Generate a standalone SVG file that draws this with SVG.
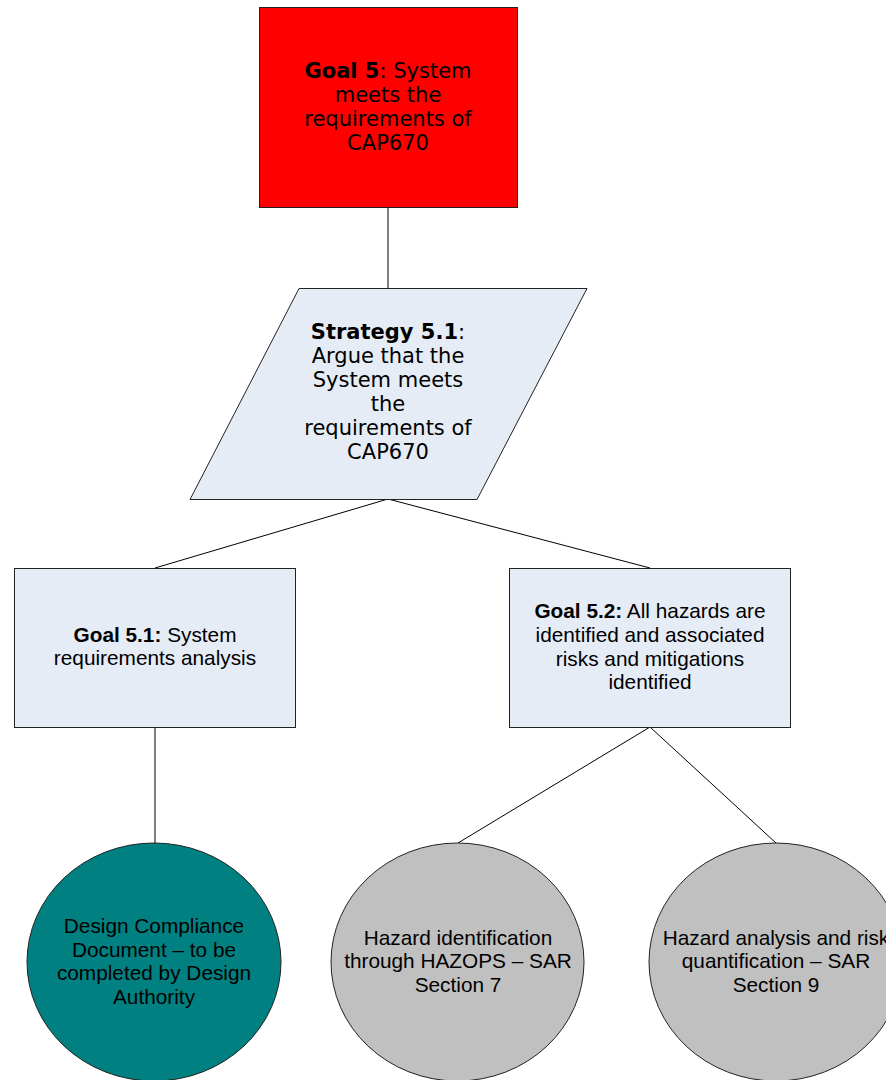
<svg xmlns="http://www.w3.org/2000/svg" width="886" height="1080" viewBox="0 0 886 1080">
<style>
.shape{stroke:#222;stroke-width:1}
.blue{fill:#E6ECF6}
.v{font-family:"DejaVu Sans",Verdana,sans-serif;font-size:21px;fill:#000;text-anchor:middle}
.a{font-family:"Liberation Sans",Arial,sans-serif;font-size:20.8px;fill:#000;text-anchor:middle}
.conn{stroke:#000;stroke-width:1;fill:none}
</style>
<rect width="886" height="1080" fill="#fff"/>
<g id="connectors">
<line class="conn" x1="388" y1="207" x2="388" y2="288"/>
<line class="conn" x1="388" y1="499" x2="155" y2="568"/>
<line class="conn" x1="388" y1="499" x2="650" y2="568"/>
<line class="conn" x1="155" y1="727" x2="155" y2="843"/>
<line class="conn" x1="650" y1="727" x2="458" y2="843"/>
<line class="conn" x1="650" y1="727" x2="776" y2="843"/>
</g>
<g id="goal5">
<rect class="shape" x="259.5" y="7.5" width="258" height="200" fill="#FF0000"/>
<text class="v"><tspan x="388" y="77.5"><tspan font-weight="bold">Goal 5</tspan>: System</tspan><tspan x="388" y="101.5">meets the</tspan><tspan x="388" y="125.5">requirements of</tspan><tspan x="388" y="149.5">CAP670</tspan></text>
</g>
<g id="strategy51">
<polygon class="shape blue" points="299,288.5 587,288.5 477,499.5 190,499.5"/>
<text class="v"><tspan x="388" y="338.5"><tspan font-weight="bold">Strategy 5.1</tspan>:</tspan><tspan x="388" y="362.5">Argue that the</tspan><tspan x="388" y="386.5">System meets</tspan><tspan x="388" y="410.5">the</tspan><tspan x="388" y="434.5">requirements of</tspan><tspan x="388" y="458.5">CAP670</tspan></text>
</g>
<g id="goal51">
<rect class="shape blue" x="14.5" y="568.5" width="281" height="159"/>
<text class="a"><tspan x="155" y="642"><tspan font-weight="bold">Goal 5.1:</tspan> System</tspan><tspan x="155" y="665">requirements analysis</tspan></text>
</g>
<g id="goal52">
<rect class="shape blue" x="509.5" y="568.5" width="281" height="159"/>
<text class="a"><tspan x="650" y="618"><tspan font-weight="bold">Goal 5.2:</tspan> All hazards are</tspan><tspan x="650" y="642">identified and associated</tspan><tspan x="650" y="665.5">risks and mitigations</tspan><tspan x="650" y="689">identified</tspan></text>
</g>
<g id="solution-dcd">
<ellipse class="shape" cx="154" cy="962" rx="127" ry="119" fill="#008080"/>
<text class="a"><tspan x="154" y="933">Design Compliance</tspan><tspan x="154" y="957">Document – to be</tspan><tspan x="154" y="980">completed by Design</tspan><tspan x="154" y="1004">Authority</tspan></text>
</g>
<g id="solution-hazid">
<ellipse class="shape" cx="457.5" cy="962" rx="126.5" ry="119" fill="#C0C0C0"/>
<text class="a"><tspan x="458" y="945">Hazard identification</tspan><tspan x="458" y="968">through HAZOPS – SAR</tspan><tspan x="458" y="992">Section 7</tspan></text>
</g>
<g id="solution-hazan">
<ellipse class="shape" cx="776" cy="962" rx="127" ry="119" fill="#C0C0C0"/>
<text class="a"><tspan x="776" y="945">Hazard analysis and risk</tspan><tspan x="776" y="968">quantification – SAR</tspan><tspan x="776" y="992">Section 9</tspan></text>
</g>
</svg>
